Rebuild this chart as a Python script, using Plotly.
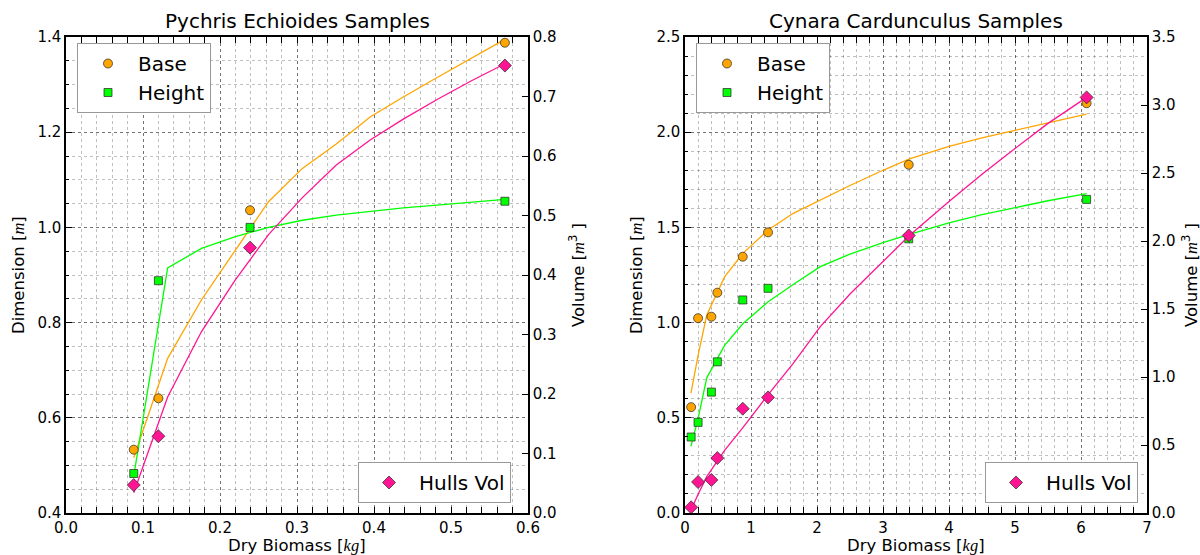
import plotly.graph_objects as go

# ---------------- data: Pychris Echioides ----------------
pe_biomass = [0.088, 0.120, 0.239, 0.570]
pe_base = [0.533, 0.641, 1.036, 1.388]
pe_height = [0.483, 0.888, 1.000, 1.055]
pe_hulls = [0.047, 0.129, 0.446, 0.752]

pe_fit_x = [0.088, 0.132, 0.176, 0.219, 0.263, 0.307, 0.351, 0.395, 0.438, 0.482, 0.526, 0.570]
pe_fit_base = [0.516, 0.725, 0.848, 0.950, 1.054, 1.124, 1.175, 1.232, 1.274, 1.315, 1.355, 1.395]
pe_fit_height = [0.478, 0.915, 0.956, 0.980, 1.000, 1.015, 1.026, 1.034, 1.041, 1.047, 1.053, 1.059]
pe_fit_hulls = [0.034, 0.195, 0.305, 0.390, 0.468, 0.530, 0.585, 0.627, 0.662, 0.695, 0.726, 0.755]

# ---------------- data: Cynara Cardunculus ----------------
cc_biomass = [0.093, 0.198, 0.400, 0.490, 0.875, 1.258, 3.390, 6.085]
cc_base = [0.556, 1.023, 1.031, 1.157, 1.346, 1.474, 1.829, 2.152]
cc_height = [0.399, 0.476, 0.635, 0.794, 1.119, 1.180, 1.440, 1.647]
cc_hulls = [0.042, 0.228, 0.243, 0.404, 0.767, 0.850, 2.040, 3.056]

cc_fit_x = [0.09, 0.2, 0.33, 0.6, 0.88, 1.26, 1.64, 2.05, 2.5, 3.0, 3.4, 4.0, 4.5, 5.0, 5.5, 6.085]
cc_fit_base = [0.63, 0.83, 1.04, 1.24, 1.365, 1.486, 1.574, 1.645, 1.72, 1.80, 1.86, 1.925, 1.97, 2.01, 2.05, 2.095]
cc_fit_height = [0.35, 0.50, 0.71, 0.88, 0.995, 1.11, 1.20, 1.294, 1.36, 1.42, 1.463, 1.524, 1.567, 1.605, 1.64, 1.677]
cc_fit_hulls = [0.02, 0.14, 0.267, 0.46, 0.63, 0.87, 1.10, 1.37, 1.61, 1.85, 2.04, 2.29, 2.49, 2.68, 2.865, 3.056]

titles = ["Pychris Echioides Samples", "Cynara Cardunculus Samples"]

W, H = 1200, 555
FONT = "DejaVu Sans"
ORANGE = "#FFA500"
LIME = "#00FF00"
PINK = "#FF1493"
EDGE = dict(color="rgba(40,40,40,0.9)", width=0.8)

def mi(t):
    return f'<span style="font-family:Liberation Serif;font-style:italic">{t}</span>'

fig = go.Figure()

def add_panel(xa, ya, ya2, leg_top, leg_bot, bx, base, height, hulls, fx, fb, fh, fv):
    fig.add_trace(go.Scatter(x=fx, y=fb, mode="lines", line=dict(color=ORANGE, width=1.3),
                             xaxis=xa, yaxis=ya, showlegend=False, hoverinfo="skip"))
    fig.add_trace(go.Scatter(x=fx, y=fh, mode="lines", line=dict(color=LIME, width=1.3),
                             xaxis=xa, yaxis=ya, showlegend=False, hoverinfo="skip"))
    fig.add_trace(go.Scatter(x=bx, y=base, mode="markers", name="Base",
                             marker=dict(symbol="circle", size=9, color=ORANGE, line=EDGE),
                             xaxis=xa, yaxis=ya, legend=leg_top))
    fig.add_trace(go.Scatter(x=bx, y=height, mode="markers", name="Height",
                             marker=dict(symbol="square", size=8, color=LIME, line=EDGE),
                             xaxis=xa, yaxis=ya, legend=leg_top))
    fig.add_trace(go.Scatter(x=fx, y=fv, mode="lines", line=dict(color=PINK, width=1.3),
                             xaxis=xa, yaxis=ya2, showlegend=False, hoverinfo="skip"))
    fig.add_trace(go.Scatter(x=bx, y=hulls, mode="markers", name="Hulls Vol",
                             marker=dict(symbol="diamond", size=10, color=PINK, line=EDGE),
                             xaxis=xa, yaxis=ya2, legend=leg_bot))

add_panel("x", "y", "y2", "legend", "legend2", pe_biomass, pe_base, pe_height, pe_hulls,
          pe_fit_x, pe_fit_base, pe_fit_height, pe_fit_hulls)
add_panel("x2", "y3", "y4", "legend3", "legend4", cc_biomass, cc_base, cc_height, cc_hulls,
          cc_fit_x, cc_fit_base, cc_fit_height, cc_fit_hulls)

y_dom = [1 - 513 / H, 1 - 37 / H]
dom_l = [66 / W, 528 / W]
dom_r = [685 / W, 1147 / W]

tickfont = dict(family=FONT, size=15, color="black")
MAJ_GRID = dict(showgrid=True, gridcolor="rgba(0,0,0,0.55)", griddash="dot", gridwidth=1)

def xax(dom, rng, dtick, mdt, fmt, anchor):
    return dict(domain=dom, range=rng, dtick=dtick, tick0=0, tickformat=fmt, anchor=anchor,
                showline=True, linecolor="black", linewidth=1.5, mirror="allticks",
                ticks="inside", ticklen=6, tickwidth=1, tickcolor="black",
                tickfont=tickfont, zeroline=False, automargin=False,
                minor=dict(dtick=mdt, ticks="inside", ticklen=3, tickcolor="black",
                           showgrid=True, gridcolor="rgba(0,0,0,0.25)", griddash="dot", gridwidth=1),
                **MAJ_GRID)

def yax(rng, dtick, mdt, anchor):
    return dict(domain=y_dom, range=rng, dtick=dtick, tick0=0, tickformat=".1f", anchor=anchor,
                showline=True, linecolor="black", linewidth=1.5,
                ticks="inside", ticklen=6, tickwidth=1, tickcolor="black",
                tickfont=tickfont, zeroline=False, automargin=False,
                minor=dict(dtick=mdt, ticks="inside", ticklen=3, tickcolor="black",
                           showgrid=True, gridcolor="rgba(0,0,0,0.25)", griddash="dot", gridwidth=1),
                **MAJ_GRID)

def y2ax(rng, dtick, over, anchor):
    return dict(range=rng, dtick=dtick, tick0=0, tickformat=".1f", overlaying=over, side="right",
                anchor=anchor, showline=True, linecolor="black", linewidth=1.5,
                ticks="inside", ticklen=6, tickwidth=1, tickcolor="black",
                tickfont=tickfont, showgrid=False, zeroline=False, automargin=False)

leg_common = dict(bgcolor="white", bordercolor="#999999", borderwidth=1,
                  font=dict(family=FONT, size=20, color="black"), itemwidth=50,
                  traceorder="normal", tracegroupgap=0)

annotations = []
for cx, t in zip([(dom_l[0] + dom_l[1]) / 2, (dom_r[0] + dom_r[1]) / 2], titles):
    annotations.append(dict(text=t, x=cx, y=1 - 21 / H, xref="paper", yref="paper",
                            showarrow=False, xanchor="center", yanchor="middle",
                            font=dict(family=FONT, size=20, color="black")))
    annotations.append(dict(text=f"Dry Biomass [{mi('kg')}]", x=cx, y=1 - 545 / H,
                            xref="paper", yref="paper", showarrow=False,
                            xanchor="center", yanchor="middle",
                            font=dict(family=FONT, size=16.5, color="black")))
for px in [18, 636]:
    annotations.append(dict(text=f"Dimension [{mi('m')}]", x=px / W, y=(y_dom[0] + y_dom[1]) / 2,
                            xref="paper", yref="paper", showarrow=False, textangle=-90,
                            xanchor="center", yanchor="middle",
                            font=dict(family=FONT, size=16.5, color="black")))
for px in [577, 1190]:
    annotations.append(dict(text=f"Volume [{mi('m')}<sup>3</sup> ]", x=px / W,
                            y=(y_dom[0] + y_dom[1]) / 2,
                            xref="paper", yref="paper", showarrow=False, textangle=-90,
                            xanchor="center", yanchor="middle",
                            font=dict(family=FONT, size=16.5, color="black")))

fig.update_layout(
    width=W, height=H,
    margin=dict(l=0, r=0, t=0, b=0),
    paper_bgcolor="white", plot_bgcolor="white",
    font=dict(family=FONT, color="black"),
    xaxis=xax(dom_l, [0, 0.6], 0.1, 0.02, ".1f", "y"),
    yaxis=yax([0.4, 1.4], 0.2, 0.05, "x"),
    yaxis2=y2ax([0, 0.8], 0.1, "y", "x"),
    xaxis2=xax(dom_r, [0, 7], 1, 0.2, "d", "y3"),
    yaxis3=yax([0, 2.5], 0.5, 0.1, "x2"),
    yaxis4=y2ax([0, 3.5], 0.5, "y3", "x2"),
    legend=dict(x=77 / W, y=1 - 43 / H, xanchor="left", yanchor="top", **leg_common),
    legend2=dict(x=511 / W, y=1 - 503 / H, xanchor="right", yanchor="bottom", **leg_common),
    legend3=dict(x=696 / W, y=1 - 43 / H, xanchor="left", yanchor="top", **leg_common),
    legend4=dict(x=1138 / W, y=1 - 503 / H, xanchor="right", yanchor="bottom", **leg_common),
    annotations=annotations,
    showlegend=True,
)

fig.write_html("out.html")
